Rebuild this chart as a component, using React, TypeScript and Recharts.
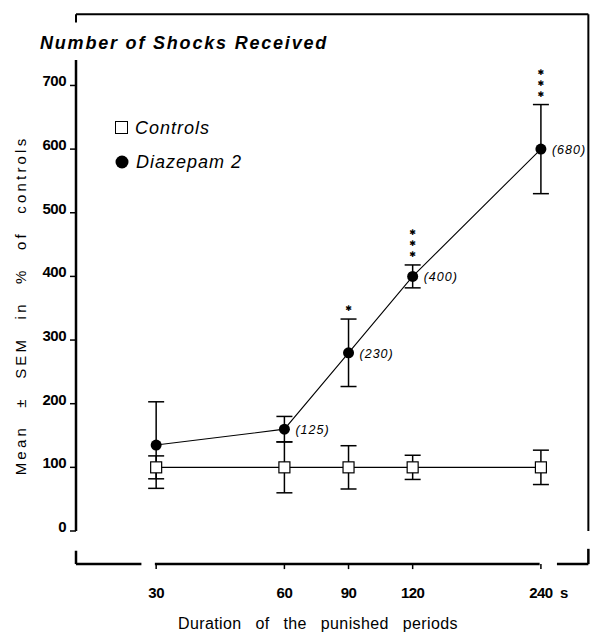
import React from 'react'
import {
  LineChart,
  Line,
  XAxis,
  YAxis,
  ErrorBar,
  LabelList,
  ReferenceLine,
} from 'recharts'

// punished period durations (s) and where they sit on the broken axis
const periods = ['30', '60', '90', '120', '240']
const periodPos = [0, 2, 3, 4, 6]

const controlMean = [100, 100, 100, 100, 100]
const controlSem = [18, 40, 34, 19, 27]
const diazepamMean = [135, 160, 280, 400, 600]
const diazepamSem = [68, 20, 53, 18, 70]
const percentLabels = ['', '(125)', '(230)', '(400)', '(680)']
const starCount = [0, 0, 1, 3, 3]

const yTicks = [0, 100, 200, 300, 400, 500, 600, 700]

const W = 591
const H = 632
const TOP = 60
const X_AXIS_H = 101
const Y_AXIS_W = 76
const Y_MAX = 740
const PX_PER_UNIT = (H - TOP - X_AXIS_H) / Y_MAX

const data = periods.map((p, i) => ({
  pos: periodPos[i],
  label: p,
  ctrl: controlMean[i],
  ctrlSem: controlSem[i],
  dz: diazepamMean[i],
  dzSem: diazepamSem[i],
  pct: percentLabels[i],
  stars: starCount[i],
}))

const sans = '"Liberation Sans", Arial, Helvetica, sans-serif'

// frame + broken baseline, in data units
const AXIS_Y = -52
const frame = [
  { a: [-1.25, AXIS_Y], b: [-0.23, AXIS_Y], w: 2.5 },
  { a: [-0.02, AXIS_Y], b: [5.98, AXIS_Y], w: 2.5 },
  { a: [6.25, AXIS_Y], b: [6.74, AXIS_Y], w: 2.5 },
  { a: [-1.25, AXIS_Y], b: [-1.25, -31], w: 2.5 },
  { a: [6.74, AXIS_Y], b: [6.74, -28], w: 2.5 },
  { a: [-1.25, 812], b: [6.74, 812], w: 2 },
  { a: [-1.25, 812], b: [-1.25, 799], w: 2 },
  { a: [6.74, 812], b: [6.74, 0], w: 2 },
]

const XTick = (props: any) => {
  const { x, payload } = props
  const idx = periodPos.indexOf(payload.value)
  const axisPx = H - X_AXIS_H - AXIS_Y * PX_PER_UNIT
  return (
    <g>
      <line x1={x} x2={x} y1={axisPx} y2={axisPx + 5} stroke="#000" strokeWidth={1.5} />
      <text x={x} y={598} textAnchor="middle" fontFamily={sans} fontWeight="bold" fontSize={15} letterSpacing={-0.5} fill="#000">
        {periods[idx]}
      </text>
      {idx === periods.length - 1 && (
        <text x={x + 19} y={598} fontFamily={sans} fontWeight="bold" fontSize={15} fill="#000">
          s
        </text>
      )}
    </g>
  )
}

const YTick = (props: any) => {
  const { y, payload } = props
  return (
    <text x={66} y={y + 1} textAnchor="end" fontFamily={sans} fontWeight="bold" fontSize={15} letterSpacing={-0.5} fill="#000">
      {payload.value}
    </text>
  )
}

const SquareDot = (props: any) => {
  const { cx, cy, index } = props
  return (
    <rect key={`sq-${index}`} x={cx - 5.5} y={cy - 5.5} width={11} height={11} fill="#fff" stroke="#000" strokeWidth={1.2} />
  )
}

const Stars = (props: any) => {
  const { x, y, index } = props
  const n = starCount[index]
  if (!n) return null
  const capY = y - diazepamSem[index] * PX_PER_UNIT
  return (
    <g>
      {Array.from({ length: n }).map((_, k) => (
        <text
          key={k}
          x={x}
          y={capY - 11 * (k + 1) + 3}
          textAnchor="middle"
          fontFamily='"DejaVu Sans", sans-serif'
          fontSize={8}
          fill="#000"
        >
          ✱
        </text>
      ))}
    </g>
  )
}

const Pct = (props: any) => {
  const { x, y, value } = props
  if (!value) return null
  return (
    <text x={x + 11} y={y + 5} fontFamily={sans} fontStyle="italic" fontSize={12.5} letterSpacing={1} fill="#000">
      {value}
    </text>
  )
}

export default function App() {
  return (
    <div style={{ position: 'relative', width: W, height: H, background: '#fff' }}>
      <style>{'body{margin:0}'}</style>
      <div
        style={{
          position: 'absolute',
          left: 40,
          top: 34,
          fontFamily: sans,
          fontWeight: 'bold',
          fontStyle: 'italic',
          fontSize: 18,
          lineHeight: '18px',
          letterSpacing: 1.8,
          whiteSpace: 'nowrap',
        }}
      >
        Number of Shocks Received
      </div>
      <div
        style={{
          position: 'absolute',
          left: 115,
          top: 111,
          fontFamily: sans,
          fontStyle: 'italic',
          fontSize: 18,
          letterSpacing: 1,
          lineHeight: '34px',
          zIndex: 2,
        }}
      >
        <div style={{ display: 'flex', alignItems: 'center', height: 34 }}>
          <svg width={20} height={14}>
            <rect x={0.5} y={0.5} width={12} height={12} fill="#fff" stroke="#000" strokeWidth={1} />
          </svg>
          <span>Controls</span>
        </div>
        <div style={{ display: 'flex', alignItems: 'center', height: 34 }}>
          <svg width={21} height={14}>
            <circle cx={7} cy={7} r={6.5} fill="#000" />
          </svg>
          <span>Diazepam 2</span>
        </div>
      </div>
      <LineChart width={W} height={H} data={data} margin={{ top: TOP, right: 2, bottom: 0, left: 0 }}>
        {frame.map((s, i) => (
          <ReferenceLine
            key={i}
            segment={[
              { x: s.a[0], y: s.a[1] },
              { x: s.b[0], y: s.b[1] },
            ]}
            stroke="#000"
            strokeWidth={s.w}
            ifOverflow="visible"
          />
        ))}
        <XAxis
          type="number"
          dataKey="pos"
          domain={[-1.25, 6.75]}
          ticks={periodPos}
          height={X_AXIS_H}
          axisLine={false}
          tickLine={false}
          tick={<XTick />}
          interval={0}
          label={({ viewBox }: any) => (
            <text
              x={318}
              y={viewBox.y + 98}
              textAnchor="middle"
              fontFamily={sans}
              fontSize={16}
              letterSpacing={0.4}
              wordSpacing={9}
              fill="#000"
            >
              Duration of the punished periods
            </text>
          )}
        />
        <YAxis
          type="number"
          domain={[0, Y_MAX]}
          ticks={yTicks}
          width={Y_AXIS_W}
          axisLine={{ stroke: '#000', strokeWidth: 2.5 }}
          tickLine={{ stroke: '#000', strokeWidth: 1.5 }}
          tickSize={6}
          tick={<YTick />}
          interval={0}
          label={({ viewBox }: any) => {
            const cx = 20
            const cy = viewBox.y + viewBox.height / 2 + 10
            return (
              <text
                x={cx}
                y={cy}
                transform={`rotate(-90 ${cx} ${cy})`}
                textAnchor="middle"
                dominantBaseline="central"
                fontFamily={sans}
                fontSize={15}
                letterSpacing={3.2}
                wordSpacing={10}
                fill="#000"
              >
                Mean ± SEM in % of controls
              </text>
            )
          }}
        />
        <Line
          dataKey="dz"
          stroke="#000"
          strokeWidth={1.1}
          dot={{ r: 5.5, fill: '#000', stroke: '#000', strokeWidth: 0 }}
          isAnimationActive={false}
        >
          <ErrorBar dataKey="dzSem" width={8} stroke="#000" strokeWidth={1.5} direction="y" />
          <LabelList dataKey="stars" content={<Stars />} />
          <LabelList dataKey="pct" content={<Pct />} />
        </Line>
        <Line
          dataKey="ctrl"
          stroke="#000"
          strokeWidth={1.1}
          dot={<SquareDot />}
          isAnimationActive={false}
        >
          <ErrorBar dataKey="ctrlSem" width={8} stroke="#000" strokeWidth={1.5} direction="y" />
        </Line>
      </LineChart>
    </div>
  )
}
